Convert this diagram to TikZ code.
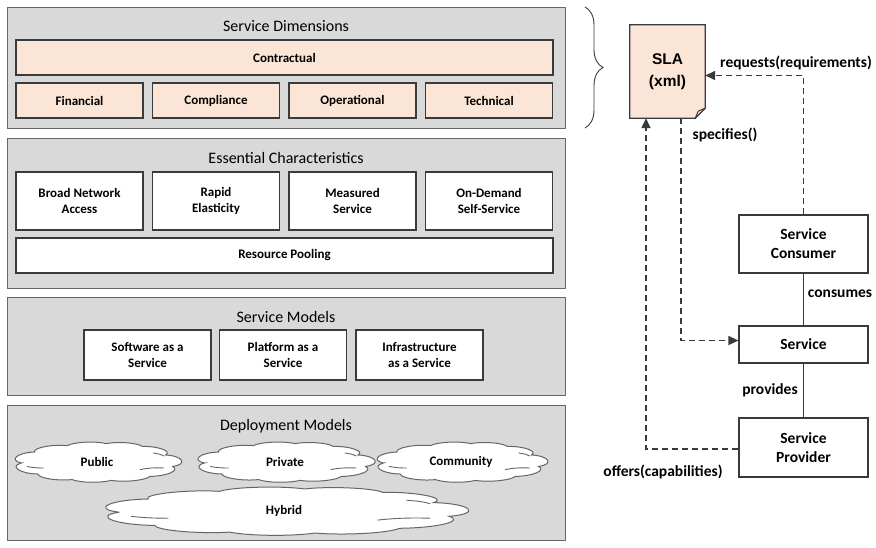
\documentclass[tikz,border=0pt]{standalone}
\usepackage{fontspec}
\setmainfont{Carlito}
\newfontfamily\arialfont{Liberation Sans}
\usepackage{tikz}
\usetikzlibrary{shapes,arrows.meta,positioning,calc,decorations.pathreplacing}

\definecolor{panelgray}{HTML}{D9D9D9}
\definecolor{panelline}{HTML}{666666}
\definecolor{boxline}{HTML}{3A3A3A}
\definecolor{peach}{HTML}{FBE5D6}

\tikzset{
    panel/.style={draw=panelline, line width=1.3pt, fill=panelgray, anchor=north west, inner sep=0},
    title/.style={font=\fontsize{16}{18}\selectfont},
    box/.style={draw=boxline, line width=1.1pt, fill=white, inner sep=0, align=center,
        font=\fontsize{13}{16}\selectfont\bfseries},
    dimbox/.style={box, fill=peach, minimum width=127, minimum height=35},
    charbox/.style={box, minimum width=127, minimum height=58},
    modelbox/.style={box, minimum width=127, minimum height=50},
    cloudtext/.style={inner sep=0, font=\fontsize{13}{16}\selectfont\bfseries},
    % cloud outline in unit coordinates, scaled per cloud
    cloudline/.pic={
        \draw[panelline, line width=1pt, fill=white]
            (-0.97,0.05) to[bend left=65] (-0.8,-0.5) to[bend left=60] (-0.38,-0.82)
            to[bend left=55] (0.12,-0.92) to[bend left=55] (0.58,-0.78)
            to[bend left=60] (0.88,-0.35) to[bend left=70] (0.97,0.22)
            to[bend left=55] (0.68,0.72) to[bend left=50] (0.18,0.92)
            to[bend left=50] (-0.32,0.88) to[bend left=55] (-0.76,0.6)
            to[bend left=65] cycle;
        \draw[panelline, line width=0.9pt] (-0.9,0.22) to[bend right=20] (-0.68,0.3);
        \draw[panelline, line width=0.9pt] (0.55,0.38) to[bend left=25] (0.86,0.3);
        \draw[panelline, line width=0.9pt] (0.72,-0.45) to[bend left=20] (0.86,-0.3);
    },
    rbox/.style={box, line width=1.2pt, minimum width=129, font=\fontsize{15.5}{19}\selectfont\bfseries},
    rlabel/.style={font=\fontsize{15.5}{19}\selectfont\bfseries},
    dasharrow/.style={draw=boxline, line width=1.5pt, dash pattern=on 6pt off 4pt,
        -{Triangle[length=10pt,width=9pt]}},
}

\begin{document}
\begin{tikzpicture}[x=1pt,y=-1pt]
    \useasboundingbox (0,0) rectangle (876,547);

    % Service dimensions
    \node[panel, minimum width=558, minimum height=121] (dims) at (7,7) {};
    \node[title] (dimstitle) at (286,26) {Service Dimensions};
    \node[dimbox, minimum width=537] (contract) at (284.5,57.5) {Contractual};
    \node[dimbox] (financial) at (79.5,100.5) {Financial};
    \node[dimbox] (compliance) at (216,100.5) {Compliance};
    \node[dimbox] (operational) at (352.5,100.5) {Operational};
    \node[dimbox] (technical) at (489,100.5) {Technical};
    \draw[boxline, line width=0.9pt, decorate, decoration={brace, amplitude=18pt}] (585,7) -- (585,128);

    % Essential characteristics
    \node[panel, minimum width=558, minimum height=150] (chars) at (7,138) {};
    \node[title] (charstitle) at (286,158) {Essential Characteristics};
    \node[charbox] (broad) at (79.5,201) {Broad Network\\Access};
    \node[charbox] (rapid) at (216,201) {Rapid\\Elasticity};
    \node[charbox] (measured) at (352.5,201) {Measured\\Service};
    \node[charbox] (ondemand) at (489,201) {On-Demand\\Self-Service};
    \node[box, minimum width=537, minimum height=35] (pooling) at (284.5,255.5) {Resource Pooling};

    % Service models
    \node[panel, minimum width=558, minimum height=98] (models) at (7,297) {};
    \node[title] (modelstitle) at (286,317) {Service Models};
    \node[modelbox] (saas) at (147.5,355) {Software as a\\Service};
    \node[modelbox] (paas) at (283,355) {Platform as a\\Service};
    \node[modelbox] (iaas) at (419.5,355) {Infrastructure\\as a Service};

    % Deployment models
    \node[panel, minimum width=558, minimum height=135] (deploy) at (7,405) {};
    \node[title] (deploytitle) at (286,426) {Deployment Models};
    \pic[xscale=78, yscale=20] at (97,462) {cloudline};
    \pic[xscale=83, yscale=20] at (285,462) {cloudline};
    \pic[xscale=80, yscale=20] at (461,462) {cloudline};
    \pic[xscale=170, yscale=24] at (284,511) {cloudline};
    \node[cloudtext] (public) at (97,462) {Public};
    \node[cloudtext] (private) at (285,462) {Private};
    \node[cloudtext] (community) at (461,462) {Community};
    \node[cloudtext] (hybrid) at (284,511) {Hybrid};

    % SLA document with folded corner
    \node[minimum width=75, minimum height=93, inner sep=0] (sla) at (667.5,71.5) {};
    \draw[boxline, line width=1.2pt, fill=peach] (sla.north west) -- (sla.north east)
        -- ([yshift=10pt]sla.south east) -- ([xshift=-10pt]sla.south east) -- (sla.south west) -- cycle;
    \draw[boxline, line width=1pt] ([yshift=10pt]sla.south east) -- ([xshift=-7pt,yshift=7pt]sla.south east)
        -- ([xshift=-10pt]sla.south east);
    \node[align=center, font=\fontsize{15.5}{22}\selectfont\arialfont\bfseries] (slatext) at (sla) {SLA\\(xml)};

    % Roles
    \node[rbox, minimum height=58, align=center] (consumer) at (803.5,244) {Service\\Consumer};
    \node[rbox, minimum height=37] (service) at (803.5,344.5) {Service};
    \node[rbox, minimum height=59, align=center] (provider) at (803.5,447.5) {Service\\Provider};

    \draw[boxline, line width=1.2pt] (consumer.south) -- (service.north);
    \draw[boxline, line width=1.2pt] (service.south) -- (provider.north);
    \node[rlabel] (consumes) at (840,294) {consumes};
    \node[rlabel] (provides) at (770,390) {provides};

    \draw[dasharrow] (consumer.north) |- ([yshift=-4pt]sla.east);
    \draw[dasharrow] ([xshift=13.5pt]sla.south) |- ([yshift=4pt]service.west);
    \draw[dasharrow] ([yshift=-1.5pt]provider.west) -| ([xshift=-21.5pt]sla.south);
    \node[rlabel] (requests) at (796,63) {requests(requirements)};
    \node[rlabel] (specifies) at (725,135) {specifies()};
    \node[rlabel] (offers) at (663,472) {offers(capabilities)};
\end{tikzpicture}
\end{document}
